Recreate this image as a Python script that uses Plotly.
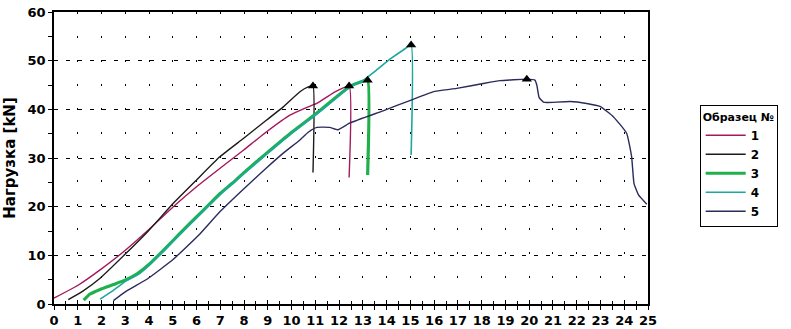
import plotly.graph_objects as go

# ---- data ----
names = ["1", "2", "3", "4", "5"]
colors = ["#A3195B", "#1E1A1A", "#1FB04A", "#1BA89E", "#2B2B5E"]
widths = [1.4, 1.4, 3.2, 1.6, 1.4]

x1 = [0.0, 1.03, 1.94, 2.99, 3.97, 5.02, 6.0, 6.99, 7.97, 8.95, 9.93, 10.6, 11.06, 11.76, 12.42, 12.42]
y1 = [1.2, 3.9, 7.0, 11.0, 15.2, 20.0, 24.1, 27.9, 31.6, 35.4, 38.8, 40.3, 41.2, 43.4, 44.8, 26.0]

x2 = [0.6, 1.2, 1.94, 2.99, 3.97, 5.02, 6.0, 6.99, 7.97, 8.95, 9.65, 10.35, 10.7, 10.9, 10.9]
y2 = [0.9, 2.6, 5.3, 10.2, 15.0, 20.7, 25.5, 30.3, 34.0, 37.8, 40.5, 43.6, 44.6, 44.8, 27.0]

x3 = [1.25, 1.5, 1.94, 2.5, 2.99, 3.5, 3.97, 4.5, 5.02, 5.5, 6.0, 6.5, 6.99, 7.5, 7.97,
      8.95, 9.93, 11.0, 12.0, 12.5, 12.9, 13.2, 13.2]
y3 = [0.8, 2.0, 3.0, 4.0, 4.9, 6.2, 8.0, 10.5, 13.1, 15.5, 17.9, 20.3, 22.7, 24.8, 26.9,
      31.0, 35.0, 39.0, 43.0, 44.8, 45.6, 46.0, 26.5]

x4 = [1.94, 2.5, 2.99, 3.62, 3.97, 5.02, 6.0, 6.99, 7.97, 8.95, 9.93, 11.0, 12.0, 12.46,
      13.02, 13.58, 14.14, 14.7, 15.03, 15.03]
y4 = [1.0, 2.8, 4.6, 6.3, 7.8, 12.9, 17.7, 22.5, 26.7, 30.8, 34.8, 38.8, 42.8, 44.6,
      46.0, 48.1, 50.3, 52.2, 53.2, 30.6]

x5 = [2.5, 3.0, 3.97, 5.02, 6.14, 6.99, 7.97, 8.95, 9.65, 10.35, 10.7, 11.06, 11.6, 11.95,
      12.46, 13.85, 15.03, 15.95, 16.95, 18.06, 18.77, 19.9, 20.24, 20.32, 20.42, 20.6,
      20.74, 21.72, 22.42, 22.98, 23.54, 24.1, 24.31, 24.41, 24.6, 24.95]
y5 = [0.7, 2.5, 5.3, 9.2, 14.4, 19.0, 23.6, 28.0, 31.0, 33.7, 35.3, 36.3, 36.3, 35.8,
      37.2, 39.7, 41.9, 43.6, 44.3, 45.3, 45.9, 46.2, 46.0, 45.0, 42.4, 41.5,
      41.4, 41.6, 41.2, 40.6, 38.5, 35.1, 30.3, 24.8, 22.4, 20.5]

xs = [x1, x2, x3, x4, x5]
ys = [y1, y2, y3, y4, y5]

x_ticks = list(range(0, 26))
y_ticks = list(range(0, 61, 10))

FONT = "DejaVu Sans"

fig = go.Figure()
for n, c, w, xv, yv in zip(names, colors, widths, xs, ys):
    fig.add_trace(go.Scatter(x=xv, y=yv, mode="lines", name=n,
                             line=dict(color=c, width=w, shape="spline", smoothing=0.4)))

# peak markers (black triangles) at each series maximum
px, py = [], []
for xv, yv in zip(xs, ys):
    i = max(range(len(yv)), key=lambda k: yv[k])
    px.append(xv[i]); py.append(yv[i])
fig.add_trace(go.Scatter(x=px, y=py, mode="markers", showlegend=False,
                         marker=dict(symbol="triangle-up", size=9, color="black")))

# overlay axis for inner tick marks
fig.add_trace(go.Scatter(x=[0, 25], y=[None, None], xaxis="x2", showlegend=False,
                         hoverinfo="skip", mode="lines"))

fig.update_layout(
    width=791, height=329,
    margin=dict(l=54, r=143, t=12, b=25),
    paper_bgcolor="white", plot_bgcolor="white",
    font=dict(family=FONT, color="black"),
    showlegend=True,
    legend=dict(
        x=1.087, y=0.68, xanchor="left", yanchor="top",
        bordercolor="black", borderwidth=1, bgcolor="white",
        title=dict(text="Образец №", font=dict(size=11, family=FONT, weight="bold")),
        font=dict(size=12, family=FONT, weight="bold"),
        itemwidth=40, tracegroupgap=0,
    ),
    xaxis=dict(
        range=[0, 25], tickvals=x_ticks, ticktext=[str(v) for v in x_ticks],
        showline=True, linecolor="black", linewidth=1.5, mirror=True,
        ticks="outside", ticklen=4, tickcolor="black",
        minor=dict(dtick=0.5, ticks="outside", ticklen=4, tickcolor="black", showgrid=False),
        showgrid=True, gridcolor="black", gridwidth=1, griddash="2px,22px",
        tickfont=dict(size=13, family=FONT, weight="bold"),
        zeroline=False, automargin=False,
    ),
    xaxis2=dict(
        range=[0, 25], overlaying="x", side="bottom", dtick=0.5,
        ticks="inside", ticklen=3, tickcolor="black", showticklabels=False,
        showgrid=False, zeroline=False, showline=False, automargin=False,
    ),
    yaxis=dict(
        range=[0, 60], tickvals=y_ticks, ticktext=[str(v) for v in y_ticks],
        showline=True, linecolor="black", linewidth=1.5, mirror=True,
        ticks="outside", ticklen=4, tickcolor="black",
        minor=dict(dtick=5, ticks="outside", ticklen=4, tickcolor="black", showgrid=False),
        showgrid=True, gridcolor="black", gridwidth=1, griddash="4px,8px",
        tickfont=dict(size=13, family=FONT, weight="bold"),
        title=dict(text="Нагрузка [kN]", font=dict(size=15, family=FONT, weight="bold"), standoff=8),
        zeroline=False, automargin=False,
    ),
)

fig.write_html("out.html")
